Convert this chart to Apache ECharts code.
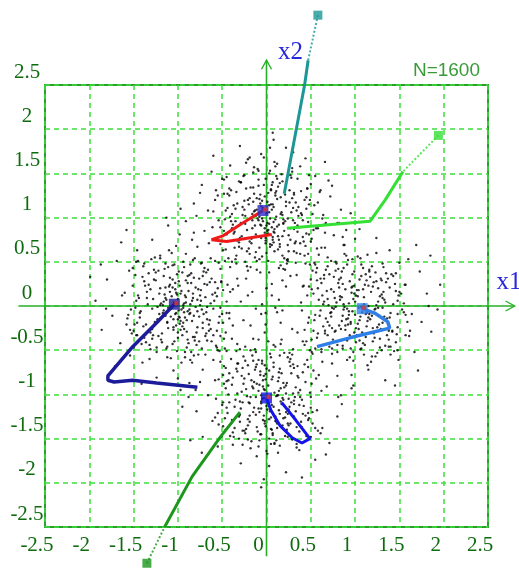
<!DOCTYPE html>
<html>
<head>
<meta charset="utf-8">
<script src="https://cdn.jsdelivr.net/npm/echarts@6/dist/echarts.min.js"></script>
<style>
  html, body { margin: 0; padding: 0; background: #ffffff; }
  #chart { width: 519px; height: 571px; }
</style>
</head>
<body>
<div id="chart"></div>
<script>
// Tick values shared by both axes
const tickValues = [-2.5, -2, -1.5, -1, -0.5, 0, 0.5, 1, 1.5, 2, 2.5];
const sampleCount = 'N=1600';

// Four sample clouds: nominal centres and point offsets (hundredths, dx,dy pairs)
const cloudCenters = [[0, 1], [-1, 0], [1, 0], [0, -1]];

const offsetsTop = [
  7,-22, 41,-3, 15,-33, 2,28, -11,-49, 19,-6, 66,-17, 9,-38, 24,-1, -27,12,
  53,-14, 4,-30, 35,-9, -58,20, 0,-19, -13,8, 31,26, -5,-44, 18,3, -36,-16,
  11,47, -24,-7, 3,14, -42,33, 27,-25, -8,1, 14,-57, -19,22, 45,10, -2,-12,
  -31,-28, 6,37, 21,-4, -15,18, 38,-41, -6,-9, 10,25, -47,-2, 29,56, -1,-26,
  17,6, -20,-35, 48,15, -9,43, 1,-15, -34,-52, 25,-20, -4,11, 60,29, -16,-3,
  12,-10, -39,4, 5,31, 33,-27, -23,62, 8,-5, -12,-39, 43,20, -3,9, -28,-21,
  20,-46, -7,16, 36,2, -52,-11, 13,35, -17,-24, 0,5, 27,48, -44,27, 6,-31,
  -10,-1, 22,13, -29,40, 9,-17, 57,-35, -14,7, 3,-62, -38,-8, 16,23, -22,-14,
  39,30, -6,-23, 14,-8, -25,19, 4,53, 31,-13, -49,-37, 11,1, -1,-29, 47,-5,
  -18,34, 8,12, -33,-26, 23,-52, -8,21, 18,41, -60,7, 2,-18, 34,8, -13,-45,
  26,17, -4,-4, -21,-60, 41,-22, 10,28, -37,14, 6,-11, -15,51, 63,-1, -2,24,
  -27,3, 15,-30, -9,36, 30,11, -45,-19, 0,-40, 19,-2, -20,15, 50,38, 7,-25,
  -11,9, 35,-16, -31,-33, 12,44, 3,-7, -55,25, 24,-49, -5,19, 16,4, -40,-4,
  44,-32, -16,-12, 5,32, -24,-50, 28,6, -3,68, 13,-21, -35,10, 21,26, -8,-34,
  9,-13, -48,43, 37,-11, -12,2, 1,18, 25,-38, -30,-23, 54,14, -18,-56, 11,30,
  -2,-17, 32,-6, -14,27, 18,-43, -41,1, 6,9, -26,47, 42,-27, -7,-8, 15,39,
  -52,-30, 4,-1, 29,22, -19,-41, 10,58, -33,16, 20,-15, -1,-23, 39,5, -23,33,
  13,-36, -6,13, 48,-19, -29,-6, 7,40, 21,-59, -11,22, -43,-46, 33,17, 0,-9,
  -16,4, 26,31, -37,-18, 8,-28, 17,49, -9,-3, 59,-42, -21,20, 2,-14, -46,8,
  30,-3, -3,37, 14,-25, -28,-35, 45,23, -13,-9, 5,15, -34,29, 23,-48, -5,-1,
  36,12, -19,-27, 9,63, -39,-12, 19,-7, -7,26, 51,-24, -24,2, 4,-33, 28,45,
  -12,-19, 40,3, -4,11, -31,41, 16,-54, 1,-6, -57,-24, 22,18, -15,34, 8,-16,
  34,-40, -25,9, 12,21, -8,-47, 27,-12, -42,25, 3,6, 46,33, -17,-29, 65,-8,
  -1,44, -35,-4, 18,-21, 7,15, -22,-38, 31,28, -10,55, 24,-31, -48,-15, 10,-2,
  // outskirts
  52,4, 67,-6, 84,9, 58,17, 72,24, 49,20, 90,-14, 61,31, 46,33, 70,42,
  55,47, 38,58, 44,67, 29,52, 22,79, 12,61, 3,50, -6,72, 8,88, -14,57,
  -21,66, -30,81, -25,48, -41,59, -50,44, -62,52, -57,31, -73,37, -48,27, -82,16,
  -66,8, -54,-3, -91,-4, -70,-15, -59,-25, -78,-33, -46,-36, -63,-46, -52,-58, -39,-50,
  -33,-69, -22,-55, -16,-84, -7,-62, 2,-49, 6,-75, 14,-93, 19,-58, 27,-66, 33,-51,
  41,-78, 47,-41, 55,-53, 62,-34, 69,-45, 50,-27, 76,-20, 58,-12, 87,-31, 64,3,
  45,-18, -44,11, -9,53, 35,44, -35,-47, 24,-47, 95,5, -5,-98, -97,10, 7,96,
  66,63, -68,-62, -60,70, 71,-64, 48,48, -47,-49, -45,46, 44,-52, 80,-6, -79,2,
  0,-80, 4,79, 57,-71, -58,-73, 30,74, -32,-77, -75,28, 74,36, -84,-25, 86,-22,
  18,-71, -19,68, 38,-29, -40,31, 31,-38, -29,40
];

const offsetsLeft = [
  -9,16, 27,-4, -36,-21, 5,38, 14,2, -18,-31, 44,11, -2,-8, -25,29, 10,-47,
  33,-15, -6,21, -47,6, 19,-35, 1,-12, -14,48, 56,24, -29,-3, 8,-58, -40,33,
  22,7, -11,-25, 3,14, 38,-40, -21,-9, 13,35, -54,-27, 28,-19, -4,4, 17,52,
  -32,-44, 6,-2, 45,20, -15,13, 0,-36, 24,31, -43,-13, 11,-6, -7,60, 35,-28,
  -20,1, 15,-52, -3,26, 50,-9, -27,41, 9,10, -12,-18, 31,-34, -60,15, 2,23,
  18,-11, -38,-36, 7,44, -16,-5, 41,6, -5,-27, 26,18, -45,51, 12,-42, -1,3,
  -23,-15, 36,27, 4,-64, -31,19, 20,-1, -9,32, 54,-30, -17,-8, 8,12, -49,-21,
  29,39, -13,-48, 16,-17, -35,9, 1,28, 43,-45, -8,-3, -26,55, 22,-24, -2,15,
  -42,-6, 11,34, 32,-7, -19,-38, 6,1, 59,16, -30,-26, 14,47, -5,-15, 23,-55,
  -14,21, -52,-31, 37,3, 2,-20, -22,40, 17,9, -6,-43, 47,-12, -33,24, 10,-29,
  25,12, -11,-2, -39,45, 5,-33, 30,25, -24,-52, 13,-9, -3,19, 62,-22, -16,5,
  -46,-19, 19,-39, 0,8, 34,41, -21,14, 8,-13, -28,-33, 40,-3, -10,63, 15,26,
  -5,-24, 27,-48, -34,2, 12,17, -56,-10, 21,-30, -1,36, 39,13, -18,-41, 4,-4,
  -27,30, 46,-19, -8,-59, 16,6, -37,23, 3,-17, 26,48, -14,-11, 52,-37, -44,9,
  7,-26, -20,20, 33,-1, -12,-46, 1,39, 24,-12, -50,-28, 9,4, -30,53, 42,15,
  -3,-9, 18,32, -41,-43, 28,-25, -7,11, 14,-61, -23,-1, 49,27, -15,42, 6,-19,
  -35,16, 22,-6, 0,-30, -48,35, 36,-16, -9,24, 11,-38, 55,5, -26,-18, 17,14,
  -1,-51, 30,43, -17,1, 5,-23, -43,-8, 23,19, -32,-60, 9,29, 44,-28, -13,7,
  -22,-34, 13,-4, -6,46, 40,-33, -38,28, 2,-13, 19,54, -57,-14, 7,-7, 31,10,
  -10,22, -29,-26, 48,-2, 15,37, -4,-40, -19,3, 35,-21, 4,17, -51,43, 21,-44,
  -8,-12, 26,6, -31,-30, 11,26, 58,-14, -16,34, 1,-5, -24,-47, 38,31, -2,-22,
  17,-35, -45,12, 6,50, -12,-19, 29,-9, -36,-41, 20,21, -7,-1, 45,-50, -25,38,
  3,-27, -14,9, 33,24, -53,-4, 10,-16, -20,57, 24,-40, -1,13, 14,-8, -39,-23,
  51,18, -6,30, 18,-56, -28,8, 7,3, 37,-26, -11,44, -46,-33, 25,1, 0,-15,
  // outskirts
  55,-8, 71,5, 88,-3, 62,19, 49,28, 77,31, 59,44, 42,51, 66,57, 35,71,
  27,49, 18,83, 9,59, -2,68, -11,91, -4,47, -20,54, -29,75, -38,48, -46,63,
  -55,40, -69,51, -51,23, -80,30, -63,12, -93,6, -48,-2, -74,-11, -58,-21, -86,-27,
  -47,-33, -65,-42, -54,-56, -40,-64, -31,-49, -24,-81, -12,-58, -5,-73, 3,-95, 8,-52,
  16,-64, 25,-86, 31,-55, 44,-47, 52,-68, 61,-37, 70,-49, 82,-22, 51,-19, 94,-9,
  -41,-88, 39,89, -87,47, 89,41, 73,-70, -71,-68, -64,72, 64,66, 0,-82, 2,81,
  -81,-3, 79,12, 47,-51, -47,50, -50,-47, 46,49, 33,-39, -33,37, 28,34, -29,-37,
  57,-84, -58,86, 12,-103, -13,100, 98,-30, -99,33
];

const offsetsRight = [
  12,-9, -27,19, 34,4, -6,-36, 21,27, -15,-17, 48,-24, 3,11, -39,-5, 9,43,
  -20,-44, 26,-2, -3,22, 41,36, -47,-28, 15,-13, -10,57, 57,-10, -1,-30, -31,8,
  18,16, 6,-49, -24,33, 31,-19, -13,-4, 45,25, -55,-40, 10,2, -8,-21, 24,60,
  -37,12, 2,-33, 38,-46, -18,30, 14,-6, -4,15, -46,-16, 28,-37, 7,47, -22,-1,
  52,14, -11,-27, 19,-57, -33,41, 0,5, 36,-14, -26,-48, 11,24, -58,23, 23,-3,
  -7,-10, 43,34, -17,7, 5,-39, -42,-31, 30,13, -2,-62, 16,39, -29,-22, 62,-28,
  4,18, -21,48, 27,-11, -9,-3, 46,-41, -36,2, 13,29, -14,-45, 33,7, -5,-18,
  -50,30, 20,-25, 1,12, -25,-38, 39,21, -12,59, 8,-7, -40,-11, 25,-53, -3,36,
  55,3, -18,-22, 11,-32, -32,17, 4,-2, 32,44, -48,-54, 17,-15, -6,28, 42,-29,
  -15,10, 22,-4, -44,38, 9,-42, -1,23, 50,16, -23,-29, 14,-67, -35,5, 29,31,
  -8,-14, 37,-20, -28,-8, 6,54, 24,1, -53,-19, 12,-35, -11,19, 44,-51, -19,42,
  1,-25, -38,26, 31,9, -5,-48, 17,33, -27,-12, 59,-18, -13,2, 8,-30, -43,-36,
  26,20, -7,-6, 40,-8, -22,50, 3,-20, -47,14, 20,-40, -16,-26, 35,37, -2,8,
  -30,-42, 15,23, -10,-15, 47,-32, -39,31, 10,-55, -21,4, 28,11, 0,-10, -60,-5,
  34,-45, -14,25, 7,-1, -34,-31, 19,45, -6,-58, 53,-4, -24,16, 13,-23, -46,49,
  23,38, -4,-36, -17,11, 39,-13, -31,-18, 5,30, 30,-50, -12,-1, -52,22, 16,-9,
  -9,47, 43,2, -26,-25, 2,18, 21,-31, -41,7, 11,-44, 35,27, -20,-52, 6,-12,
  -35,35, 27,-21, -3,-6, 49,12, -15,39, 18,-63, -45,-10, 9,19, -24,-3, 38,-38,
  -1,14, -29,-46, 24,28, -57,-27, 14,-17, -8,52, 31,-2, -18,21, 4,-26, 56,24,
  -33,-14, 12,36, -6,-33, 40,-55, -23,9, 1,-41, 26,5, -48,40, 19,-11, -11,-22,
  46,17, -16,32, 8,-3, -38,-49, 29,-26, -4,21, 16,41, -27,-7, 61,-34, -7,3,
  -22,-28, 33,-12, -13,43, 5,-16, -42,20, 22,-36, -2,-52, 37,31, -30,1, 10,10,
  -19,26, 48,-9, -9,-39, 15,0, -36,-23, 3,56, 28,-47, -54,12, 20,22, -5,-20,
  -26,-2, 42,-28, 7,34, -14,-11, 32,16, -49,-38, 13,-8, -1,39, 25,-24, -31,45,
  // outskirts
  48,6, 64,-9, 81,14, 93,-4, 57,24, 73,39, 46,37, 60,53, 39,63, 31,48,
  24,77, 14,58, 5,87, -3,53, -12,69, -18,94, -27,51, -34,66, -43,43, -57,57,
  -66,35, -49,19, -78,22, -61,4, -88,-7, -52,-13, -71,-26, -59,-40, -83,-38, -45,-48,
  -37,-63, -26,-54, -20,-79, -9,-61, -2,-90, 7,-48, 15,-72, 23,-57, 34,-84, 40,-46,
  49,-61, 57,-33, 67,-52, 75,-18, 86,-29, 55,-7, -94,12, 96,24, -16,-101, 19,99,
  69,69, -70,-66, -68,71, 71,-73, 0,76, -4,-78, 83,0, -82,-5, 50,49, -49,-52,
  -51,47, 48,-50, 36,-33, -35,31, 30,29, -31,-33, 85,57, -85,-56, -44,88, 45,-90,
  38,-28, -22,40
];

const offsetsBottom = [
  -8,11, 25,-17, -33,26, 6,-40, 14,4, -19,-24, 40,-6, -2,33, -27,-9, 11,-52,
  36,19, -12,-3, 3,-28, -45,15, 20,47, -6,-16, 52,-33, -24,38, 9,2, -38,-43,
  17,-11, -1,23, 31,-25, -16,9, -55,-21, 27,32, -9,-59, 13,-1, 44,14, -30,-8,
  5,42, -21,-35, 38,-3, -4,16, 21,-47, -42,24, 0,-13, 57,-18, -13,51, 10,-30,
  -28,3, 15,29, -7,-45, 33,8, -49,-36, 24,-22, -3,6, 46,39, -18,-61, 7,20,
  -36,-14, 12,-38, -11,34, 28,-9, 2,60, -43,0, 19,-27, -25,18, 61,-44, -5,-5,
  23,13, -31,-50, 8,31, -15,-20, 42,-13, -2,-33, -52,37, 16,7, 34,-56, -20,23,
  -6,-10, 29,45, -39,-29, 4,-19, 14,25, -24,-44, 49,2, -11,12, 0,-64, 25,-35,
  -46,7, 18,-4, -9,39, 37,-42, -29,-16, 6,17, -17,-53, 53,27, -3,-24, 22,10,
  -34,29, 11,-31, -58,-26, 30,1, -12,48, 2,-9, 41,-22, -22,-2, 8,36, -41,-47,
  26,-14, -7,22, 15,-58, -48,12, 35,32, -1,-36, 19,-6, -26,43, 47,-29, -14,-15,
  3,27, -35,-6, 24,-48, -9,4, 56,18, -19,-31, 10,54, -44,-21, 31,-11, -4,9,
  -23,-39, 13,15, 40,-37, -6,-1, -32,35, 22,-20, -15,63, 5,-26, 62,4, -50,-12,
  17,24, -10,-42, 32,-3, -38,19, 1,-17, 27,40, -21,-28, 9,-55, -46,30, 44,-24,
  -2,5, -27,-57, 20,8, 12,-33, -13,28, 50,-15, -33,1, 4,46, 23,-40, -8,-20,
  35,21, -17,16, 6,-12, -54,-34, 29,-51, -5,38, 16,-8, -39,11, 43,34, -11,-37,
  -3,-4, 21,-26, -24,54, 38,5, -45,-15, 7,-44, 14,19, -20,-9, 55,-38, -7,26,
  -30,-23, 26,37, 1,-67, -15,7, 33,-19, -40,40, 11,-2, -2,-30, 19,13, -57,-5,
  45,-47, -12,31, 8,-14, -25,-41, 28,24, -6,-8, 39,-31, -34,49, 15,-22, -1,17,
  -18,-3, 51,12, -28,21, 3,-50, 18,-35, -47,-27, 24,42, -9,-16, 34,-60, -23,6,
  10,-25, 25,-5, -36,-38, 0,29, 47,-21, -14,14, 7,-46, -42,-9, 30,51, -4,-29,
  -21,33, 14,-18, -8,-52, 36,2, -31,-25, 2,10, 58,-41, -16,44, 20,-13, -49,22,
  27,-33, -5,35, 12,-1, -37,-48, 41,25, -19,-10, 5,-39, -58,16, 16,57, -12,-23,
  31,-7, -26,12, 9,-56, -3,21, 48,-27, -40,-33, 22,1, -15,38, 37,-12, -6,-45,
  // outskirts
  50,-3, 68,9, 85,-11, 59,22, 47,31, 74,35, 62,48, 43,56, 35,70, 26,47,
  16,81, 8,56, -1,92, -9,62, -18,50, -26,84, -33,57, -45,49, -52,66, -60,39,
  -72,28, -54,17, -87,13, -66,-1, -49,-9, -79,-19, -61,-30, -46,-40, -72,-48, -55,-59,
  -38,-57, -29,-78, -21,-51, -11,-70, -3,-96, 5,-56, 13,-66, 22,-88, 29,-50, 37,-63,
  46,-47, 55,-74, 63,-38, 71,-55, 80,-25, 52,-20, 96,7, -95,-14, -6,-105, 10,98,
  67,-68, -68,69, 66,72, -73,-66, -1,79, 3,-81, 81,-3, -80,5, 49,50, -51,-48,
  -47,52, 50,-48, 34,-37, -33,35, -30,-31, 31,30, -86,-52, 86,52, 40,-94, -42,92,
  24,-33, -27,-41
];

// Centre trajectories (x1, x2), first point = starting position
const pathTeal    = [[0.58, 3.29], [0.47, 2.78], [0.43, 2.50], [0.20, 1.27]];
const pathGreen   = [[1.94, 1.93], [1.54, 1.52], [1.34, 1.20], [1.17, 0.96], [0.23, 0.88]];
const pathRed     = [[0.06, 0.81], [-0.20, 0.77], [-0.45, 0.73], [-0.62, 0.75], [-0.50, 0.79], [-0.30, 0.92], [-0.04, 1.08]];
const pathNavy    = [[-0.78, -0.92], [-1.24, -0.87], [-1.51, -0.84], [-1.72, -0.86], [-1.79, -0.84], [-1.79, -0.79], [-1.51, -0.46], [-1.24, -0.19], [-1.04, 0.02]];
const pathSky     = [[0.57, -0.46], [0.94, -0.36], [1.39, -0.25], [1.37, -0.18], [1.22, -0.08], [1.08, -0.03]];
const pathBlue    = [[0.17, -1.09], [0.33, -1.29], [0.49, -1.50], [0.40, -1.55], [0.29, -1.49], [0.15, -1.35], [0.05, -1.18], [0.00, -1.04]];
const pathDkGreen = [[-1.35, -2.91], [-1.15, -2.50], [-0.84, -1.93], [-0.52, -1.48], [-0.30, -1.20]];

// Reach of the x1 / x2 axis arrows beyond the frame
const axisReachX = [-2.80, 2.80];
const axisReachY = [-2.83, 2.78];

const samplePoints = [];
[offsetsTop, offsetsLeft, offsetsRight, offsetsBottom].forEach(function (offs, k) {
  for (let i = 0; i < offs.length; i += 2) {
    samplePoints.push([cloudCenters[k][0] + offs[i] / 100, cloudCenters[k][1] + offs[i + 1] / 100]);
  }
});

const chart = echarts.init(document.getElementById('chart'));

const labelColor = '#0e6b0e';
const gridDash = '#3ddf3d';
const axisColor = '#27b027';

function trajectory(name, data, color, width, fastSteps) {
  const out = [];
  if (fastSteps > 0) {
    out.push({
      name: name + '-lead', type: 'line', data: data.slice(0, fastSteps + 1),
      showSymbol: false, clip: false, silent: true, z: 4,
      lineStyle: { color: color, width: 2, type: 'dotted', opacity: 0.8 }
    });
  }
  out.push({
    name: name, type: 'line', data: data.slice(fastSteps),
    showSymbol: false, clip: false, silent: true, z: 4,
    lineStyle: { color: color, width: width }
  });
  return out;
}

const series = [
  {
    name: 'samples', type: 'scatter', data: samplePoints, symbolSize: 2.4, silent: true, z: 2,
    itemStyle: { color: '#000000' }
  }
].concat(
  trajectory('teal', pathTeal, '#1d9696', 3, 1),
  trajectory('green', pathGreen, '#35e035', 3, 1),
  trajectory('red', pathRed, '#ee1a1a', 3, 0),
  trajectory('navy', pathNavy, '#1c1c9a', 3.5, 0),
  trajectory('sky', pathSky, '#2f7fe8', 3.5, 0),
  trajectory('blue', pathBlue, '#1414e6', 3, 0),
  trajectory('dkgreen', pathDkGreen, '#1d961d', 3, 1)
);

// starting squares
series.push({
  name: 'starts', type: 'scatter', symbol: 'rect', symbolSize: 9, clip: false, silent: true, z: 5,
  data: [
    { value: pathTeal[0], itemStyle: { color: '#1d9696' } },
    { value: pathGreen[0], itemStyle: { color: '#35e035' } },
    { value: pathDkGreen[0], itemStyle: { color: '#1d961d' } }
  ]
});

// final centre squares
const finals = [
  [pathRed[pathRed.length - 1], '#2d2dc8'],
  [pathNavy[pathNavy.length - 1], '#1c1c9a'],
  [pathSky[pathSky.length - 1], '#2f7fe8'],
  [pathBlue[pathBlue.length - 1], '#1414e6']
];
series.push({
  name: 'centres', type: 'scatter', symbol: 'rect', symbolSize: 11, silent: true, z: 6,
  data: finals.map(function (f) { return { value: f[0], itemStyle: { color: f[1] } }; })
});
series.push({
  name: 'centre-core', type: 'scatter', symbol: 'rect', symbolSize: 4, symbolOffset: [2, -1], silent: true, z: 7,
  data: finals.map(function (f) { return f[0]; }),
  itemStyle: { color: '#e83030' }
});

function axisCommon() {
  return {
    type: 'value', min: tickValues[0], max: tickValues[tickValues.length - 1], interval: 0.5,
    axisLine: { show: false }, axisTick: { show: false },
    splitLine: { show: true, lineStyle: { color: gridDash, width: 1.5, type: [5, 4] } }
  };
}

const xAxis = axisCommon();
xAxis.axisLabel = {
  color: labelColor, fontFamily: 'Liberation Serif', fontSize: 21, margin: 8,
  padding: [0, 16, 0, 0], showMinLabel: true, showMaxLabel: true,
  formatter: function (v) { return String(v); }
};
const yAxis = axisCommon();
yAxis.axisLabel = {
  color: labelColor, fontFamily: 'Liberation Serif', fontSize: 21, margin: 18, align: 'center',
  verticalAlign: 'bottom', lineHeight: 26, showMinLabel: true, showMaxLabel: true,
  formatter: function (v) { return String(v); }
};

chart.setOption({
  animation: false,
  backgroundColor: '#ffffff',
  grid: { left: 45, top: 85, width: 443, height: 442, show: true, borderColor: '#2b9e2b', borderWidth: 2 },
  xAxis: xAxis,
  yAxis: yAxis,
  series: series
});

// x1 / x2 axes through the origin, with open arrow heads and names
const px = function (p) { return chart.convertToPixel({ gridIndex: 0 }, p); };
const o = px([0, 0]);
const xa = px([axisReachX[0], 0]), xb = px([axisReachX[1], 0]);
const ya = px([0, axisReachY[0]]), yb = px([0, axisReachY[1]]);
const corner = px([tickValues[tickValues.length - 1], tickValues[tickValues.length - 1]]);

chart.setOption({
  graphic: [
    { type: 'line', z: 1, silent: true, shape: { x1: xa[0], y1: o[1], x2: xb[0], y2: o[1] }, style: { stroke: axisColor, lineWidth: 1.6 } },
    { type: 'line', z: 1, silent: true, shape: { x1: o[0], y1: ya[1], x2: o[0], y2: yb[1] }, style: { stroke: axisColor, lineWidth: 1.6 } },
    { type: 'polyline', z: 1, silent: true, shape: { points: [[xb[0] - 9, o[1] - 5], [xb[0], o[1]], [xb[0] - 9, o[1] + 5]] }, style: { stroke: axisColor, fill: null, lineWidth: 1.4 } },
    { type: 'polyline', z: 1, silent: true, shape: { points: [[o[0] - 5, yb[1] + 9], [o[0], yb[1]], [o[0] + 5, yb[1] + 9]] }, style: { stroke: axisColor, fill: null, lineWidth: 1.4 } },
    { type: 'text', silent: true, x: xb[0] - 18, y: o[1] - 24, style: { text: 'x1', font: '25px "Liberation Serif"', fill: '#2727dd', align: 'left', verticalAlign: 'middle' } },
    { type: 'text', silent: true, x: o[0] + 24, y: yb[1] - 8, style: { text: 'x2', font: '25px "Liberation Serif"', fill: '#2727dd', align: 'center', verticalAlign: 'middle' } },
    { type: 'text', silent: true, x: corner[0] - 8, y: corner[1] - 14, style: { text: sampleCount, font: '19px "Liberation Sans"', fill: '#3a9a3a', align: 'right', verticalAlign: 'middle' } }
  ]
});
</script>
</body>
</html>
